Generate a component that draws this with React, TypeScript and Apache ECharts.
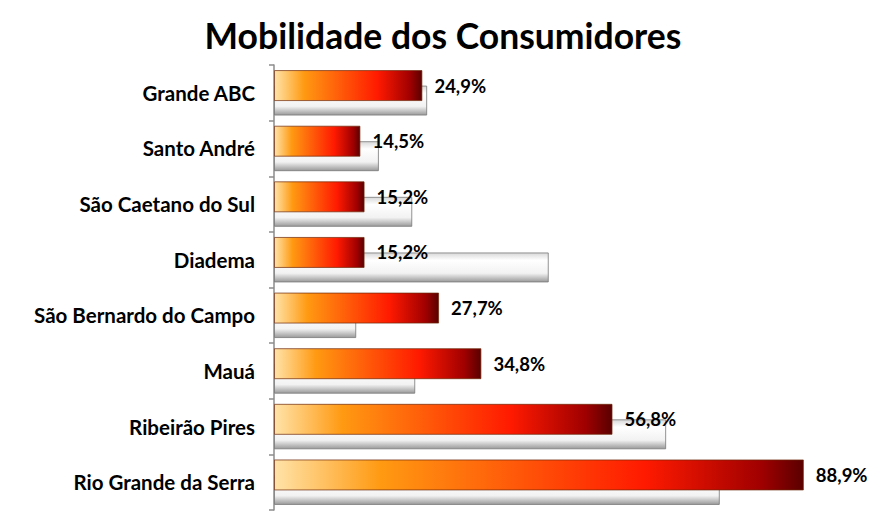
import React, { useEffect, useRef } from 'react';
import * as echarts from 'echarts';

const categories = [
  'Grande ABC',
  'Santo André',
  'São Caetano do Sul',
  'Diadema',
  'São Bernardo do Campo',
  'Mauá',
  'Ribeirão Pires',
  'Rio Grande da Serra',
];
const currentValues = [24.9, 14.5, 15.2, 15.2, 27.7, 34.8, 56.8, 88.9];
const previousValues = [25.7, 17.6, 23.2, 46.1, 13.8, 23.7, 65.8, 74.8];

const FONT = 'Lato, "Open Sans", sans-serif';

export default function App() {
  const ref = useRef<HTMLDivElement>(null);
  useEffect(() => {
    if (!ref.current) return;
    const chart = echarts.init(ref.current, undefined, { renderer: 'svg' });
    const redGradient = new echarts.graphic.LinearGradient(0, 0, 1, 0, [
      { offset: 0, color: '#ffe3a8' },
      { offset: 0.2, color: '#ff9a12' },
      { offset: 0.7, color: '#ff1a00' },
      { offset: 0.92, color: '#a00000' },
      { offset: 1, color: '#5a0000' },
    ]);
    const whiteGradient = new echarts.graphic.LinearGradient(0, 0, 0, 1, [
      { offset: 0, color: '#d8d8d8' },
      { offset: 0.25, color: '#ffffff' },
      { offset: 0.7, color: '#f2f2f2' },
      { offset: 1, color: '#9a9a9a' },
    ]);
    chart.setOption({
      animation: false,
      backgroundColor: '#ffffff',
      title: {
        text: 'Mobilidade dos Consumidores',
        left: 'center',
        top: 12,
        textStyle: { fontFamily: FONT, fontWeight: 'bold', fontSize: 35.5, color: '#000' },
      },
      grid: { left: 274, right: 16, top: 65, bottom: 13, containLabel: false },
      xAxis: {
        type: 'value',
        min: 0,
        max: 100,
        show: false,
      },
      yAxis: {
        type: 'category',
        data: categories,
        inverse: true,
        axisLine: { show: true, lineStyle: { color: '#8c8c8c', width: 1.5 } },
        axisTick: { show: true, length: 5, lineStyle: { color: '#8c8c8c', width: 1.5 } },
        axisLabel: {
          fontFamily: FONT,
          fontWeight: 'bold',
          fontSize: 20.5,
          color: '#000',
          margin: 19,
        },
        splitLine: { show: false },
      },
      series: [
        {
          name: 'Atual',
          type: 'bar',
          data: currentValues,
          barWidth: 31,
          barGap: '-50%',
          z: 3,
          itemStyle: {
            color: redGradient,
            borderColor: 'rgba(110,40,10,0.7)',
            borderWidth: 1,
          },
          label: {
            show: true,
            position: 'right',
            distance: 12,
            offset: [0, 0],
            fontFamily: FONT,
            fontWeight: 'bold',
            fontSize: 18.5,
            color: '#000',
            formatter: (p: any) => p.value.toFixed(1).replace('.', ',') + '%',
          },
        },
        {
          name: 'Anterior',
          type: 'bar',
          data: previousValues,
          barWidth: 30,
          barGap: '-50%',
          z: 2,
          itemStyle: {
            color: whiteGradient,
            borderColor: 'rgba(120,120,120,0.8)',
            borderWidth: 1,
          },
        },
      ],
    });
    return () => chart.dispose();
  }, []);
  return (
    <div
      ref={ref}
      style={{ position: 'fixed', left: 0, top: 0, width: 886, height: 523 }}
    />
  );
}
